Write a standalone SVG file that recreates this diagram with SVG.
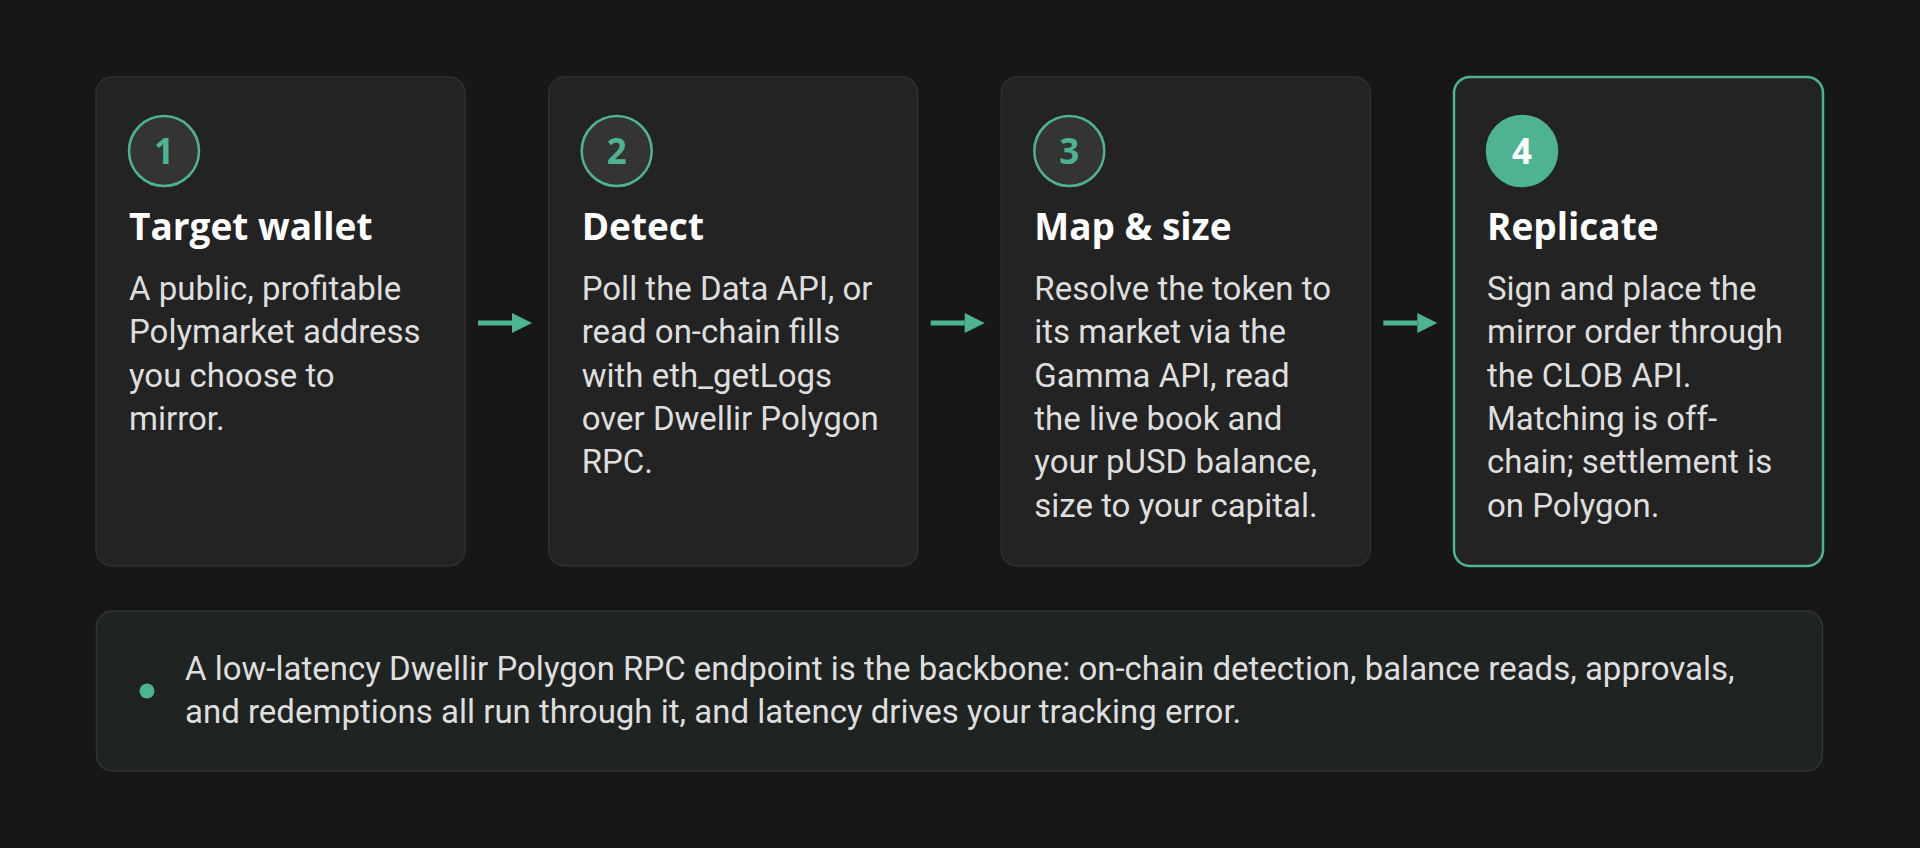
<svg xmlns="http://www.w3.org/2000/svg" width="1920" height="848" viewBox="0 0 1920 848">
<defs>
<style>
.card{fill:#232323;stroke:#303030;stroke-width:1.5}
.card.active{stroke:#4db393;stroke-width:2.5}
.badge{fill:#343434;stroke:#4db393;stroke-width:2.5}
.badge.active{fill:#4db393;stroke:#4db393}
.num{font-family:"Open Sans",Lato,sans-serif;font-weight:700;font-size:35px;fill:#4db393;text-anchor:middle}
.num.active{fill:#ffffff}
.title{font-family:"Open Sans",Lato,sans-serif;font-weight:700;font-size:37px;fill:#ffffff}
.body{font-family:Roboto,"Liberation Sans",sans-serif;font-size:33px;fill:#dedede}
.note{font-family:Roboto,"Liberation Sans",sans-serif;font-size:33px;fill:#dedede}
.conn{stroke:#4db393;stroke-width:5;fill:none}
</style>
<marker id="ah" viewBox="0 0 10 10" refX="0" refY="5" markerWidth="4.6" markerHeight="4" markerUnits="strokeWidth" orient="auto">
<path d="M0,0 L10,5 L0,10 z" fill="#4db393"/>
</marker>
</defs>
<rect x="0" y="0" width="1920" height="848" fill="#171717"/>

<g id="step1">
<rect class="card" x="96" y="77" width="369" height="489" rx="16"/>
<circle class="badge" cx="164" cy="151" r="35"/>
<text class="num" x="164" y="163.5">1</text>
<text class="title" x="129" y="240">Target wallet</text>
<text class="body" x="129" y="300">A public, profitable</text>
<text class="body" x="129" y="343.3">Polymarket address</text>
<text class="body" x="129" y="386.7">you choose to</text>
<text class="body" x="129" y="430">mirror.</text>
</g>

<g id="step2">
<rect class="card" x="548.7" y="77" width="369" height="489" rx="16"/>
<circle class="badge" cx="616.7" cy="151" r="35"/>
<text class="num" x="616.7" y="163.5">2</text>
<text class="title" x="581.7" y="240">Detect</text>
<text class="body" x="581.7" y="300">Poll the Data API, or</text>
<text class="body" x="581.7" y="343.3">read on-chain fills</text>
<text class="body" x="581.7" y="386.7">with eth_getLogs</text>
<text class="body" x="581.7" y="430">over Dwellir Polygon</text>
<text class="body" x="581.7" y="473.3">RPC.</text>
</g>

<g id="step3">
<rect class="card" x="1001.3" y="77" width="369" height="489" rx="16"/>
<circle class="badge" cx="1069.3" cy="151" r="35"/>
<text class="num" x="1069.3" y="163.5">3</text>
<text class="title" x="1034.3" y="240">Map &amp; size</text>
<text class="body" x="1034.3" y="300">Resolve the token to</text>
<text class="body" x="1034.3" y="343.3">its market via the</text>
<text class="body" x="1034.3" y="386.7">Gamma API, read</text>
<text class="body" x="1034.3" y="430">the live book and</text>
<text class="body" x="1034.3" y="473.3">your pUSD balance,</text>
<text class="body" x="1034.3" y="516.7">size to your capital.</text>
</g>

<g id="step4">
<rect class="card active" x="1454" y="77" width="369" height="489" rx="16"/>
<circle class="badge active" cx="1522" cy="151" r="35"/>
<text class="num active" x="1522" y="163.5">4</text>
<text class="title" x="1487" y="240">Replicate</text>
<text class="body" x="1487" y="300">Sign and place the</text>
<text class="body" x="1487" y="343.3">mirror order through</text>
<text class="body" x="1487" y="386.7">the CLOB API.</text>
<text class="body" x="1487" y="430">Matching is off-</text>
<text class="body" x="1487" y="473.3">chain; settlement is</text>
<text class="body" x="1487" y="516.7">on Polygon.</text>
</g>

<g id="connectors">
<line class="conn" x1="478" y1="323" x2="512" y2="323" marker-end="url(#ah)"/>
<line class="conn" x1="930.7" y1="323" x2="964.7" y2="323" marker-end="url(#ah)"/>
<line class="conn" x1="1383.3" y1="323" x2="1417.3" y2="323" marker-end="url(#ah)"/>
</g>

<g id="note">
<rect x="96.5" y="611" width="1726" height="160" rx="16" fill="#1f2322" stroke="#313533" stroke-width="1.5"/>
<circle cx="147" cy="691" r="7.5" fill="#4db393"/>
<text class="note" x="185" y="680">A low-latency Dwellir Polygon RPC endpoint is the backbone: on-chain detection, balance reads, approvals,</text>
<text class="note" x="185" y="723">and redemptions all run through it, and latency drives your tracking error.</text>
</g>
</svg>
